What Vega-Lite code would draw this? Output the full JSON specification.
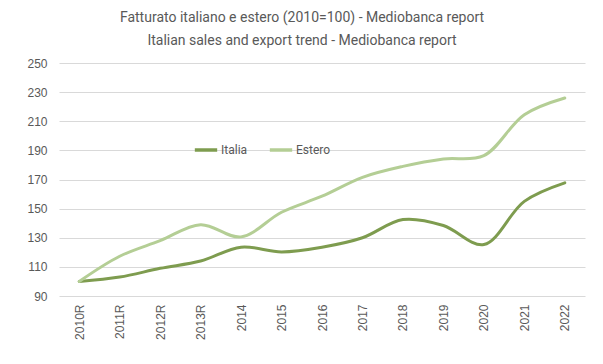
{
  "$schema": "https://vega.github.io/schema/vega-lite/v6.json",
  "width": 526,
  "height": 233,
  "autosize": {"type": "none"},
  "padding": {"left": 59, "top": 63, "right": 18, "bottom": 68},
  "background": "white",
  "title": {
    "text": ["Fatturato italiano e estero (2010=100) - Mediobanca report", "Italian sales and export trend - Mediobanca report"],
    "fontSize": 14,
    "fontWeight": "normal",
    "font": "Liberation Sans Narrow, Roboto, sans-serif",
    "color": "#595959",
    "lineHeight": 23,
    "anchor": "middle",
    "dx": -20,
    "offset": 9
  },
  "data": {
    "values": [
      {"anno": "2010R", "serie": "Italia", "valore": 100},
      {"anno": "2011R", "serie": "Italia", "valore": 103},
      {"anno": "2012R", "serie": "Italia", "valore": 109},
      {"anno": "2013R", "serie": "Italia", "valore": 114},
      {"anno": "2014", "serie": "Italia", "valore": 123.5},
      {"anno": "2015", "serie": "Italia", "valore": 120.3},
      {"anno": "2016", "serie": "Italia", "valore": 123.5},
      {"anno": "2017", "serie": "Italia", "valore": 130},
      {"anno": "2018", "serie": "Italia", "valore": 142.5},
      {"anno": "2019", "serie": "Italia", "valore": 138.4},
      {"anno": "2020", "serie": "Italia", "valore": 125.3},
      {"anno": "2021", "serie": "Italia", "valore": 155},
      {"anno": "2022", "serie": "Italia", "valore": 167.7},
      {"anno": "2010R", "serie": "Estero", "valore": 100},
      {"anno": "2011R", "serie": "Estero", "valore": 117.3},
      {"anno": "2012R", "serie": "Estero", "valore": 128},
      {"anno": "2013R", "serie": "Estero", "valore": 139},
      {"anno": "2014", "serie": "Estero", "valore": 130.6},
      {"anno": "2015", "serie": "Estero", "valore": 147.5},
      {"anno": "2016", "serie": "Estero", "valore": 158.5},
      {"anno": "2017", "serie": "Estero", "valore": 171.5},
      {"anno": "2018", "serie": "Estero", "valore": 179},
      {"anno": "2019", "serie": "Estero", "valore": 184.1},
      {"anno": "2020", "serie": "Estero", "valore": 186.4},
      {"anno": "2021", "serie": "Estero", "valore": 214.5},
      {"anno": "2022", "serie": "Estero", "valore": 226}
    ]
  },
  "mark": {"type": "line", "interpolate": "catmull-rom", "strokeWidth": 3, "strokeCap": "round"},
  "encoding": {
    "x": {
      "field": "anno",
      "type": "ordinal",
      "sort": null,
      "title": null,
      "scale": {"padding": 0.5},
      "axis": {
        "labelAngle": -90,
        "labelFontSize": 12,
        "labelColor": "#595959",
        "labelFont": "Liberation Sans, sans-serif",
        "labelPadding": 8,
        "domain": false,
        "ticks": false,
        "grid": false
      }
    },
    "y": {
      "field": "valore",
      "type": "quantitative",
      "title": null,
      "scale": {"domain": [90, 250], "nice": false, "zero": false},
      "axis": {
        "values": [90, 110, 130, 150, 170, 190, 210, 230, 250],
        "labelFontSize": 12,
        "labelColor": "#595959",
        "labelFont": "Liberation Sans, sans-serif",
        "labelPadding": 12,
        "domain": false,
        "ticks": false,
        "grid": true,
        "gridColor": "#D9D9D9",
        "gridWidth": 1
      }
    },
    "color": {
      "field": "serie",
      "type": "nominal",
      "sort": ["Italia", "Estero"],
      "title": null,
      "scale": {"domain": ["Italia", "Estero"], "range": ["#7E9C4F", "#B4CE95"]},
      "legend": {
        "orient": "none",
        "legendX": 134,
        "legendY": 74,
        "direction": "horizontal",
        "symbolType": "stroke",
        "symbolStrokeWidth": 3.5,
        "symbolSize": 500,
        "labelFontSize": 12,
        "labelColor": "#595959",
        "labelFont": "Liberation Sans Narrow, Roboto, sans-serif",
        "columnPadding": 14,
        "labelOffset": 2
      }
    }
  },
  "config": {"view": {"stroke": null}}
}
